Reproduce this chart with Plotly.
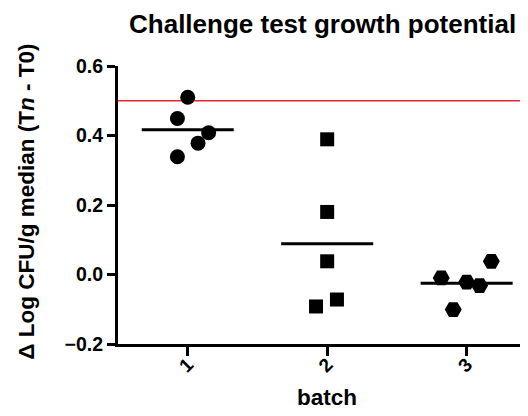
import plotly.graph_objects as go

# ---- data ----
batches = [1, 2, 3]
batch_labels = ["1", "2", "3"]
batch1 = [0.51, 0.449, 0.408, 0.378, 0.339]
batch2 = [0.389, 0.18, 0.038, -0.072, -0.092]
batch3 = [0.038, -0.010, -0.022, -0.032, -0.101]
threshold = 0.5

# horizontal scatter (jitter) offsets, in category units
jit1 = [0.0, -0.074, 0.15, 0.074, -0.074]
jit2 = [0.0, 0.0, 0.0, 0.07, -0.08]
jit3 = [0.177, -0.182, 0.0, 0.093, -0.096]

series = [(batch1, jit1, "circle", 15), (batch2, jit2, "square", 14), (batch3, jit3, "hexagon2", 17)]

fig = go.Figure()
half = 0.33
for b, (vals, jit, sym, sz) in zip(batches, series):
    fig.add_trace(go.Scatter(
        x=[b + j for j in jit], y=vals, mode="markers",
        marker=dict(symbol=sym, size=sz, color="black", line=dict(width=0)),
        showlegend=False, hoverinfo="y"))
    m = sum(vals) / len(vals)
    fig.add_trace(go.Scatter(
        x=[b - half, b + half], y=[m, m], mode="lines",
        line=dict(color="black", width=3), showlegend=False, hoverinfo="y"))

fig.add_shape(type="line", xref="paper", x0=0, x1=1, yref="y", y0=threshold, y1=threshold,
              line=dict(color="#e8262a", width=1.5), layer="below")

bold = dict(family="Liberation Sans, Arial, sans-serif", color="black", weight="bold")

fig.add_annotation(text="Δ Log CFU/g median (T<i>n</i> - T0)", textangle=-90,
                   xref="paper", yref="paper", x=-0.222, y=0.512,
                   xanchor="center", yanchor="middle", showarrow=False,
                   font=dict(size=22.5, **bold))
fig.add_annotation(text="batch", xref="paper", yref="paper", x=0.509, y=-0.194,
                   xanchor="center", yanchor="middle", showarrow=False,
                   font=dict(size=22.5, **bold))

fig.update_layout(
    width=520, height=408,
    margin=dict(l=110, r=0, t=58, b=72),
    paper_bgcolor="white", plot_bgcolor="white",
    title=dict(text="Challenge test growth potential", x=0.605, xanchor="center",
               y=0.961, yanchor="middle", font=dict(size=26, **bold)),
    xaxis=dict(range=[0.5, 3.44], tickmode="array", tickvals=batches, ticktext=batch_labels,
               tickangle=-45, showline=True, linecolor="black", linewidth=3,
               ticks="outside", ticklen=9, tickwidth=3, tickcolor="black",
               ticklabelstandoff=-10,
               showgrid=False, zeroline=False, tickfont=dict(size=19, **bold)),
    yaxis=dict(range=[-0.2, 0.6], tickvals=[-0.2, 0.0, 0.2, 0.4, 0.6], tickformat=".1f",
               showline=True, linecolor="black", linewidth=3,
               ticks="outside", ticklen=8, tickwidth=3, tickcolor="black",
               showgrid=False, zeroline=False, tickfont=dict(size=19.5, **bold)),
)

fig.write_html("out.html")
